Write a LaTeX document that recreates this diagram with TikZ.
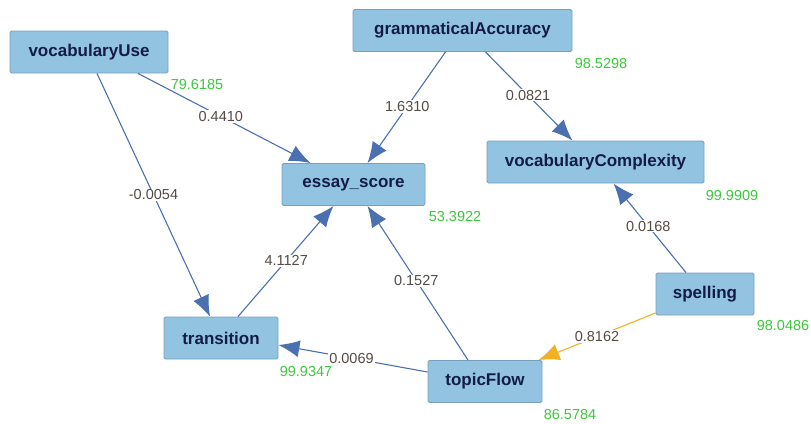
\documentclass[tikz,border=0pt]{standalone}
\usepackage{fontspec}
\setmainfont{Liberation Sans}
\usetikzlibrary{arrows.meta}
\definecolor{boxfill}{RGB}{146,196,226}
\definecolor{boxdraw}{RGB}{120,160,190}
\definecolor{boxtext}{RGB}{20,28,70}
\definecolor{edgeblue}{RGB}{75,112,176}
\definecolor{edgeorange}{RGB}{240,178,35}
\definecolor{labtext}{RGB}{85,75,70}
\definecolor{valgreen}{RGB}{60,200,60}
\tikzset{
  varbox/.style={draw=boxdraw, fill=boxfill, rounded corners=1.5pt, line width=0.9pt,
    minimum height=42pt, inner sep=0pt, text=boxtext,
    font=\fontsize{17}{19}\selectfont\bfseries},
  link/.style={draw=edgeblue, line width=1.1pt, -{Latex[length=21pt,width=17pt]}},
  linko/.style={draw=edgeorange, line width=1.1pt, -{Latex[length=21pt,width=17pt]}},
  elab/.style={fill=white, inner sep=1pt, text=labtext, font=\fontsize{14.5}{16}\selectfont},
  val/.style={text=valgreen, inner sep=0pt, font=\fontsize{14.5}{16}\selectfont}
}
\begin{document}
\begin{tikzpicture}[x=1pt,y=-1pt]
\useasboundingbox (0,0) rectangle (811,423);
% nodes
\node[varbox, minimum width=158pt] (vu) at (89,52) {vocabularyUse};
\node[varbox, minimum width=219pt] (ga) at (462.5,30.5) {grammaticalAccuracy};
\node[varbox, minimum width=143pt] (es) at (353.5,184.5) {essay\_score};
\node[varbox, minimum width=217pt] (vc) at (595.5,162) {vocabularyComplexity};
\node[varbox, minimum width=114pt] (tr) at (221,338) {transition};
\node[varbox, minimum width=98pt] (sp) at (705,294) {spelling};
\node[varbox, minimum width=114pt] (tf) at (485,381.5) {topicFlow};
% values
\node[val] (v1) at (197,85) {79.6185};
\node[val] (v2) at (601,64) {98.5298};
\node[val] (v3) at (455,217) {53.3922};
\node[val] (v4) at (732,196) {99.9909};
\node[val] (v5) at (306,372) {99.9347};
\node[val] (v6) at (783,326) {98.0486};
\node[val] (v7) at (570,415) {86.5784};
% edges
\draw[link] ([xshift=49pt]vu.south) -- node[elab, pos=0.48] {0.4410} ([xshift=-43pt]es.north);
\draw[link] ([xshift=-17pt]ga.south) -- node[elab, pos=0.49] {1.6310} ([xshift=14pt]es.north);
\draw[link] ([xshift=23pt]ga.south) -- node[elab, pos=0.49] {0.0821} ([xshift=-23pt]vc.north);
\draw[link] ([xshift=-19pt]sp.north) -- node[elab, pos=0.52] {0.0168} ([xshift=18pt]vc.south);
\draw[link] ([xshift=8pt]vu.south) -- node[elab, pos=0.5] {-0.0054} ([xshift=-11pt]tr.north);
\draw[link] ([xshift=17pt]tr.north) -- node[elab, pos=0.505] {4.1127} ([xshift=-20pt]es.south);
\draw[link] ([xshift=-17pt]tf.north) -- node[elab, pos=0.515] {0.1527} ([xshift=14pt]es.south);
\draw[link] ([yshift=9.5pt]tf.west) -- node[elab, pos=0.51] {0.0069} ([yshift=-7pt]tr.east);
\draw[linko] ([yshift=-19pt]sp.west) -- node[elab, pos=0.5] {0.8162} ([xshift=-4pt]tf.north east);
\end{tikzpicture}
\end{document}
